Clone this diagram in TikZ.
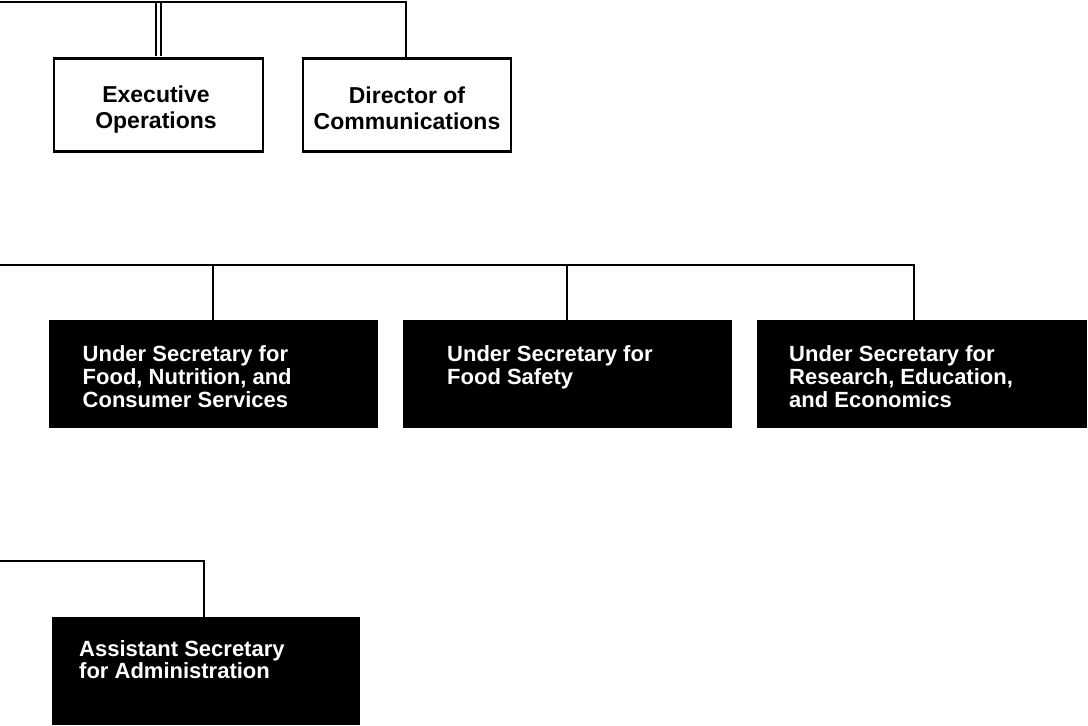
\documentclass[tikz,border=0pt]{standalone}
\usepackage{fontspec}
\setmainfont{Liberation Sans}
\begin{document}
\begin{tikzpicture}[x=1pt,y=-1pt,
  conn/.style={line width=2pt, line join=miter},
  dblconn/.style={double, double distance=2.2pt, line width=2pt},
  wbox/.style={draw, line width=2.5pt, fill=white, inner sep=0pt, minimum height=93pt},
  wtext/.style={align=center, inner sep=0pt, font=\fontsize{23}{26}\selectfont\bfseries},
  bbox/.style={draw, fill=black, line width=1pt, inner sep=0pt, minimum height=107pt},
  btext/.style={anchor=north west, inner sep=0pt, text=white, align=left,
    font=\fontsize{22}{22.7}\selectfont\bfseries}]
\useasboundingbox (0,0) rectangle (1088,726);

% top row
\node[wbox, minimum width=209pt] (exec) at (158.5,105) {};
\node[wbox, minimum width=208pt] (dir) at (407,105) {};
\node[wtext] (exect) at (156,109.5) {Executive\\Operations};
\node[wtext] (dirt) at (407,108.5) {Director of\\Communications};

% middle row
\node[bbox, minimum width=328pt] (us1) at (213,373.5) {};
\node[bbox, minimum width=328pt] (us2) at (567,373.5) {};
\node[bbox, minimum width=329pt] (us3) at (921.5,373.5) {};
\node[btext] (us1t) at (82.5,345.5) {Under Secretary for\\Food, Nutrition, and\\Consumer Services};
\node[btext] (us2t) at (447,345.5) {Under Secretary for\\Food Safety};
\node[btext] (us3t) at (789,345.5) {Under Secretary for\\Research, Education,\\and Economics};

% bottom row
\node[bbox, minimum width=307pt] (as) at (206,671) {};
\node[btext] (ast) at (79,640) {Assistant Secretary\\for Administration};

% connectors
\coordinate (tl) at (0,1.5);
\coordinate (tr) at (406,1.5);
\draw[dblconn] ([yshift=1.2pt]exec.north) -- (exec.north |- tl);
\draw[conn] (tl) -- (tr) -- (tr |- dir.north);

\coordinate (ml) at (0,264.5);
\coordinate (mr) at (914,264.5);
\draw[conn] (ml) -- (mr) -- (mr |- us3.north);
\draw[conn] (us1.north) -- (us1.north |- ml);
\draw[conn] (us2.north) -- (us2.north |- ml);

\coordinate (bl) at (0,561);
\coordinate (br) at (204,561);
\draw[conn] (bl) -- (br) -- (br |- as.north);
\end{tikzpicture}
\end{document}
